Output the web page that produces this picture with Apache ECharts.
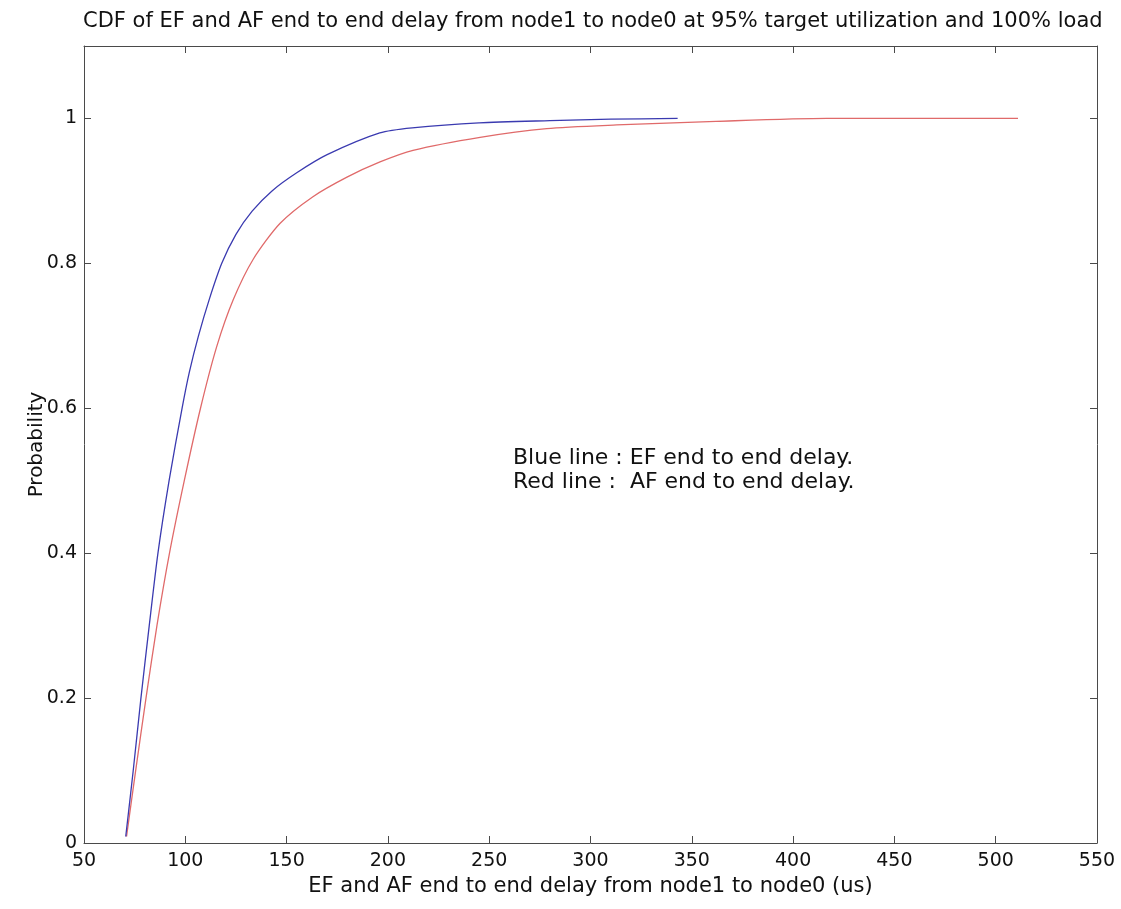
<!DOCTYPE html>
<html>
<head>
<meta charset="utf-8">
<script src="https://cdn.jsdelivr.net/npm/echarts@6/dist/echarts.min.js"></script>
<style>
html,body{margin:0;padding:0;background:#fff;}
#chart{width:1121px;height:909px;}
</style>
</head>
<body>
<div id="chart"></div>
<script>
const titleText = 'CDF of EF and AF end to end delay from node1 to node0 at 95% target utilization and 100% load';
const xAxisName = 'EF and AF end to end delay from node1 to node0 (us)';
const yAxisName = 'Probability';
const noteLines = ['Blue line : EF end to end delay.', 'Red line :  AF end to end delay.'];

const xTicks = [50, 100, 150, 200, 250, 300, 350, 400, 450, 500, 550];
const yTicks = [0, 0.2, 0.4, 0.6, 0.8, 1];

// EF (blue) CDF
const efDelay = [70.6, 74.3, 78.1, 82.2, 86.5, 92.0, 98.4, 102.0, 106.5, 111.8, 118.0, 125.0, 133.0, 142.8, 155.0, 170.0, 196.0, 212.0, 245.0, 280.0, 310.0, 343.0];
const efProb  = [0.009, 0.10, 0.20, 0.30, 0.40, 0.50, 0.60, 0.65, 0.70, 0.75, 0.80, 0.84, 0.872, 0.90, 0.925, 0.95, 0.98, 0.987, 0.994, 0.997, 0.999, 1.0];

// AF (red) CDF
const afDelay = [71.0, 75.5, 80.6, 86.0, 92.2, 99.5, 107.5, 115.5, 123.7, 133.6, 146.7, 163.0, 179.8, 196.1, 212.4, 245.5, 278.4, 312.9, 362.0, 416.5, 511.0];
const afProb  = [0.009, 0.10, 0.20, 0.30, 0.40, 0.50, 0.60, 0.685, 0.75, 0.806, 0.855, 0.892, 0.919, 0.94, 0.956, 0.974, 0.986, 0.991, 0.996, 1.0, 1.0];

const efData = efDelay.map((x, i) => [x, efProb[i]]);
const afData = afDelay.map((x, i) => [x, afProb[i]]);

const FONT = 'DejaVu Sans, Verdana, sans-serif';
const axisColor = '#4a4a4a';

const chart = echarts.init(document.getElementById('chart'));
const commonX = {
  type: 'value', min: 50, max: 550, interval: 50,
  axisLine: {show: true, onZero: false, lineStyle: {color: axisColor, width: 1}},
  axisTick: {show: true, inside: true, length: 7, lineStyle: {color: axisColor}},
  splitLine: {show: false}
};
const commonY = {
  type: 'value', min: 0, max: 1.1, interval: 0.2,
  axisLine: {show: true, onZero: false, lineStyle: {color: axisColor, width: 1}},
  axisTick: {show: true, inside: true, length: 7, lineStyle: {color: axisColor}},
  splitLine: {show: false}
};

chart.setOption({
  animation: false,
  backgroundColor: '#ffffff',
  title: {
    text: titleText, left: 78, top: 6,
    textStyle: {fontFamily: FONT, fontSize: 21, fontWeight: 'normal', color: '#111'}
  },
  grid: {left: 84, right: 24, top: 46, bottom: 66, containLabel: false},
  xAxis: [
    Object.assign({}, commonX, {
      position: 'bottom',
      name: xAxisName, nameLocation: 'middle', nameGap: 33,
      nameTextStyle: {fontFamily: FONT, fontSize: 21, color: '#111'},
      axisLabel: {
        fontFamily: FONT, fontSize: 19, color: '#111', margin: 9,
        formatter: v => xTicks.includes(v) ? String(v) : ''
      }
    }),
    Object.assign({}, commonX, {position: 'top', axisLabel: {show: false}})
  ],
  yAxis: [
    Object.assign({}, commonY, {
      position: 'left',
      name: yAxisName, nameLocation: 'middle', nameGap: 37, nameMoveOverlap: false,
      nameTextStyle: {fontFamily: FONT, fontSize: 20, color: '#111'},
      axisLabel: {
        fontFamily: FONT, fontSize: 19, color: '#111', margin: 7,
        formatter: v => {
          const r = Math.round(v * 10) / 10;
          return yTicks.some(t => Math.abs(t - r) < 1e-9) ? String(r) : '';
        }
      }
    }),
    Object.assign({}, commonY, {position: 'right', axisLabel: {show: false}})
  ],
  graphic: [{
    type: 'text', left: 513, top: 446,
    style: {
      text: noteLines.join('\n'), fontFamily: FONT, fontSize: 22, lineHeight: 24, fill: '#111'
    }
  }],
  series: [
    {
      name: 'AF', type: 'line', data: afData, xAxisIndex: 0, yAxisIndex: 0,
      showSymbol: false, smooth: 0.25,
      lineStyle: {color: '#e06a6a', width: 1.3}
    },
    {
      name: 'EF', type: 'line', data: efData, xAxisIndex: 0, yAxisIndex: 0,
      showSymbol: false, smooth: 0.25,
      lineStyle: {color: '#3a3ab0', width: 1.3}
    }
  ]
});
</script>
</body>
</html>
